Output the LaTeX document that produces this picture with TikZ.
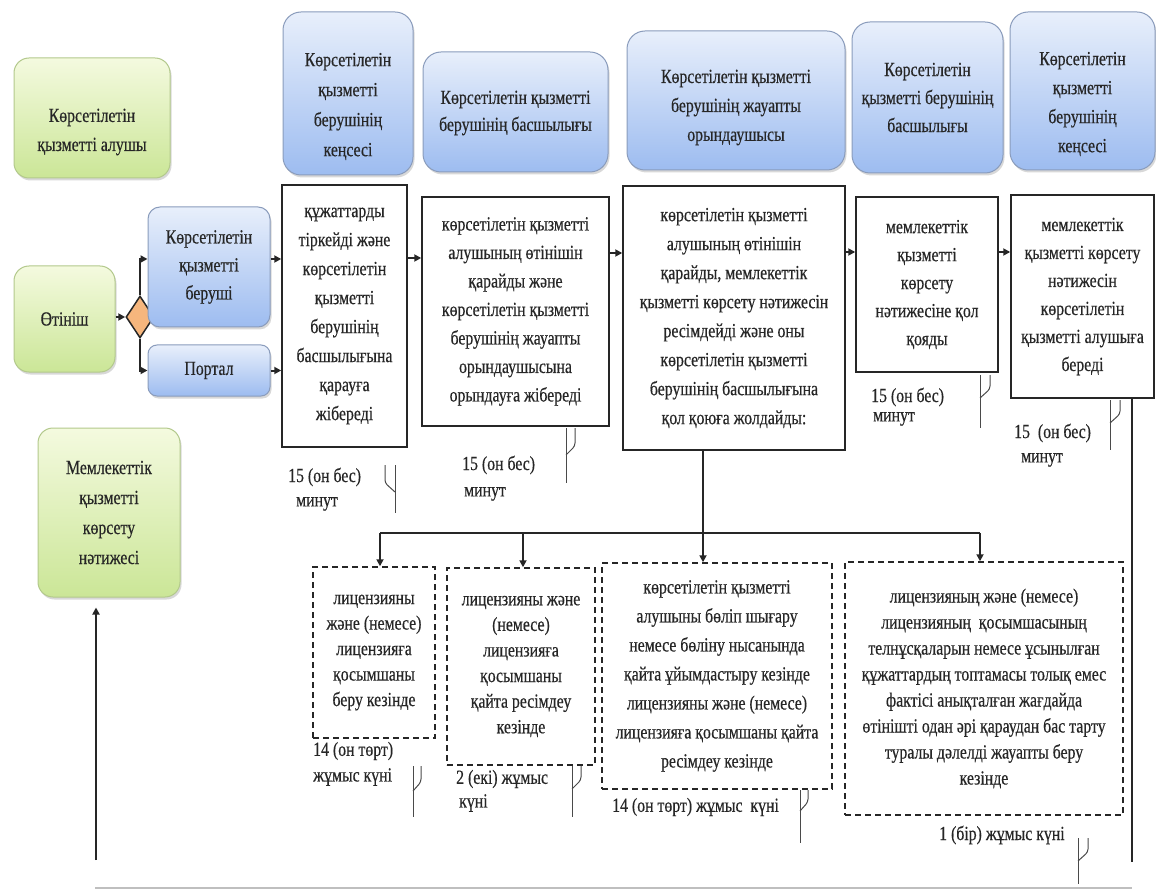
\documentclass[tikz,border=0pt]{standalone}
\usepackage{fontspec}
\setmainfont{Liberation Serif}[FakeStretch=0.79,FakeBold=0.4]
\usetikzlibrary{arrows.meta,shapes.geometric,shadows}
\definecolor{bluetop}{HTML}{E8EFFB}
\definecolor{bluebot}{HTML}{9DBCF0}
\definecolor{blueline}{HTML}{8A9CBC}
\definecolor{greentop}{HTML}{F4FADF}
\definecolor{greenbot}{HTML}{CBE697}
\definecolor{greenline}{HTML}{B3C98C}
\definecolor{diafill}{HTML}{F6B67D}
\definecolor{txtc}{HTML}{262626}
\definecolor{markc}{HTML}{4A4A4A}
\newcommand\timemark[5]{%
  \draw[markline] (#1,#2) -- (#1,#3);
  \draw[markline, rounded corners=3pt] ([xshift=#4pt]#1,#2) -- ([xshift=#4pt]#1,#2+#5) -- (#1,#2+#5+9);
}
\begin{document}
\begin{tikzpicture}[x=1pt,y=-1pt,
  every node/.style={text=txtc, inner sep=0pt, align=center},
  fs/.style={font={\fontsize{20}{#1}\selectfont}},
  shad/.style={drop shadow={shadow xshift=1.5pt, shadow yshift=-2.5pt, opacity=.3}},
  hdr/.style={rounded corners=18pt, draw=blueline, line width=1pt, top color=bluetop, bottom color=bluebot, shad},
  bbox/.style={rounded corners=12pt, draw=blueline, line width=1pt, top color=bluetop, bottom color=bluebot, shad},
  gbox/.style={rounded corners=15pt, draw=greenline, line width=1pt, top color=greentop, bottom color=greenbot, shad},
  pbox/.style={draw=black!85, line width=1.5pt, fill=white},
  dbox/.style={draw=black!85, line width=1.5pt, dash pattern=on 6pt off 4pt, fill=white},
  arr/.style={-{Triangle[length=7pt,width=7pt]}, line width=2pt, draw=black!85},
  conn/.style={line width=2pt, draw=black!85},
  markline/.style={line width=1pt, draw=markc},
  lbl/.style={anchor=west, fs=20}]
\useasboundingbox (0,0) rectangle (1156,890);
\fill[white] (0,0) rectangle (1156,890);

% left column
\node[gbox, minimum width=156pt, minimum height=120pt] (g1) at (92,118) {};
\node[fs=29] (g1t) at ([yshift=-14pt]g1.center) {Көрсетілетін\\қызметті алушы};
\node[gbox, minimum width=101pt, minimum height=106pt, fs=27] (g2) at (64.5,319) {Өтініш};
\node[diamond, draw=black!85, line width=1.5pt, fill=diafill, minimum width=28pt, minimum height=42pt, inner sep=0pt] (dia) at (140,317) {};
\node[bbox, minimum width=122pt, minimum height=120pt, fs=28] (prov) at (209,267) {Көрсетілетін\\қызметті\\беруші};
\node[bbox, rounded corners=9pt, minimum width=122pt, minimum height=51pt, fs=27] (port) at (209,370.5) {Портал};
\node[gbox, minimum width=142pt, minimum height=169pt, fs=30] (g3) at (109,512.5) {Мемлекеттік\\қызметті\\көрсету\\нәтижесі};

% headers
\node[hdr, minimum width=130pt, minimum height=163pt] (h1) at (348,93.5) {};
\node[fs=30] (h1t) at ([yshift=-13pt]h1.center) {Көрсетілетін\\қызметті\\берушінің\\кеңсесі};
\node[hdr, minimum width=185pt, minimum height=120pt] (h2) at (515.5,112) {};
\node[fs=27] (h2t) at ([yshift=-1pt]h2.center) {Көрсетілетін қызметті\\берушінің басшылығы};
\node[hdr, minimum width=218pt, minimum height=139pt] (h3) at (736,100.5) {};
\node[fs=29] (h3t) at ([yshift=-7pt]h3.center) {Көрсетілетін қызметті\\берушінің жауапты\\орындаушысы};
\node[hdr, minimum width=151pt, minimum height=151pt] (h4) at (927.5,97.5) {};
\node[fs=28] (h4t) at (h4.center) {Көрсетілетін\\қызметті берушінің\\басшылығы};
\node[hdr, minimum width=145pt, minimum height=158pt] (h5) at (1082.5,91) {};
\node[fs=29] (h5t) at ([yshift=-13pt]h5.center) {Көрсетілетін\\қызметті\\берушінің\\кеңсесі};

% process boxes
\node[pbox, minimum width=125pt, minimum height=262pt, fs=29] (b1) at (344.5,316) {құжаттарды\\тіркейді және\\көрсетілетін\\қызметті\\берушінің\\басшылығына\\қарауға\\жібереді};
\node[pbox, minimum width=187pt, minimum height=229pt, fs=28.5] (b2) at (515.5,311.5) {көрсетілетін қызметті\\алушының өтінішін\\қарайды және\\көрсетілетін қызметті\\берушінің жауапты\\орындаушысына\\орындауға жібереді};
\node[pbox, minimum width=222pt, minimum height=264pt, fs=29] (b3) at (734,318) {көрсетілетін қызметті\\алушының өтінішін\\қарайды, мемлекеттік\\қызметті көрсету нәтижесін\\ресімдейді және оны\\көрсетілетін қызметті\\берушінің басшылығына\\қол қоюға жолдайды:};
\node[pbox, minimum width=142pt, minimum height=175pt, fs=28] (b4) at (927,284.5) {мемлекеттік\\қызметті\\көрсету\\нәтижесіне қол\\қояды};
\node[pbox, minimum width=143pt, minimum height=203pt, fs=28] (b5) at (1082.5,296.5) {мемлекеттік\\қызметті көрсету\\нәтижесін\\көрсетілетін\\қызметті алушыға\\береді};

% dashed boxes
\node[dbox, minimum width=122pt, minimum height=171pt, fs=25.5] (d1) at (374,652.5) {лицензияны\\және (немесе)\\лицензияға\\қосымшаны\\беру кезінде};
\node[dbox, minimum width=148pt, minimum height=197pt, fs=25.6] (d2) at (521,666.5) {лицензияны және\\(немесе)\\лицензияға\\қосымшаны\\қайта ресімдеу\\кезінде};
\node[dbox, minimum width=230pt, minimum height=226pt, fs=29] (d3) at (717,676) {көрсетілетін қызметті\\алушыны бөліп шығару\\немесе бөліну нысанында\\қайта ұйымдастыру кезінде\\лицензияны және (немесе)\\лицензияға қосымшаны қайта\\ресімдеу кезінде};
\node[dbox, minimum width=278pt, minimum height=253pt, fs=26] (d4) at (984,688.5) {лицензияның және (немесе)\\лицензияның~ қосымшасының\\телнұсқаларын немесе ұсынылған\\құжаттардың топтамасы толық емес\\фактісі анықталған жағдайда\\өтінішті одан әрі қараудан бас тарту\\туралы дәлелді жауапты беру\\кезінде};

% connectors (left)
\draw[arr] (g2.east |- dia.west) -- (dia.west);
\draw[arr] (dia.north) |- ([yshift=8pt]prov.west);
\draw[arr] (dia.south) |- (port.west);
\draw[arr] ([yshift=8pt]prov.east) -- ([yshift=8pt]prov.east -| b1.west);
\draw[arr] (port.east) -- (port.east -| b1.west);

% connectors (main row)
\draw[arr] ([yshift=58pt]b1.east) -- ([yshift=58pt]b1.east -| b2.west);
\draw[arr] ([yshift=58.5pt]b2.east) -- ([yshift=58.5pt]b2.east -| b3.west);
\draw[arr] ([yshift=66pt]b3.east) -- ([yshift=66pt]b3.east -| b4.west);
\draw[arr] ([yshift=32.5pt]b4.east) -- ([yshift=32.5pt]b4.east -| b5.west);

% branching bus
\coordinate (bus) at (703,533);
\draw[conn] ([xshift=-31pt]b3.south) -- (bus);
\draw[conn] ([xshift=6pt]d1.north |- bus) -- ([xshift=-4pt]d4.north |- bus);
\draw[arr] ([xshift=6pt]d1.north |- bus) -- ([xshift=6pt]d1.north);
\draw[arr] ([xshift=2pt]d2.north |- bus) -- ([xshift=2pt]d2.north);
\draw[arr] (bus) -- ([xshift=-14pt]d3.north);
\draw[arr] ([xshift=-4pt]d4.north |- bus) -- ([xshift=-4pt]d4.north);

% return path
\coordinate (rb) at (1132,862);
\coordinate (lb) at (96,860);
\draw[conn] (b5.south -| rb) -- (rb);
\draw[arr, shorten >=10pt] (lb) -- (lb |- g3.south);
\coordinate (bl) at (95,888);
\coordinate (br) at (1132,888);
\draw[line width=1.2pt, draw=black!25] (bl) -- (br);

% time marks
\timemark{395}{465}{513}{-10}{18}
\timemark{566}{428}{483}{9}{18}
\timemark{980}{375}{428}{10}{14}
\timemark{1110}{400}{450}{10}{14}
\timemark{413}{766}{817}{8}{16}
\timemark{572}{766}{817}{9}{14}
\timemark{800}{790}{843}{8}{12}
\timemark{1078}{838}{884}{10}{14}

% time labels
\node[lbl] (l1a) at (288,477) {15 (он бес)};
\node[lbl] (l1b) at (296,504) {минут};
\node[lbl] (l2a) at (462,465) {15 (он бес)};
\node[lbl] (l2b) at (464,494) {минут};
\node[lbl] (l3a) at (871,397) {15 (он бес)};
\node[lbl] (l3b) at (873,419) {минут};
\node[lbl] (l4a) at (1014,433) {15~ (он бес)};
\node[lbl] (l4b) at (1021,460) {минут};
\node[lbl] (l5a) at (313,751) {14 (он төрт)};
\node[lbl] (l5b) at (313,777) {жұмыс күні};
\node[lbl] (l6a) at (456,779) {2 (екі) жұмыс};
\node[lbl] (l6b) at (459,803) {күні};
\node[lbl] (l7) at (612,807) {14 (он төрт) жұмыс~ күні};
\node[lbl] (l8) at (939,835) {1 (бір) жұмыс күні};
\end{tikzpicture}
\end{document}
